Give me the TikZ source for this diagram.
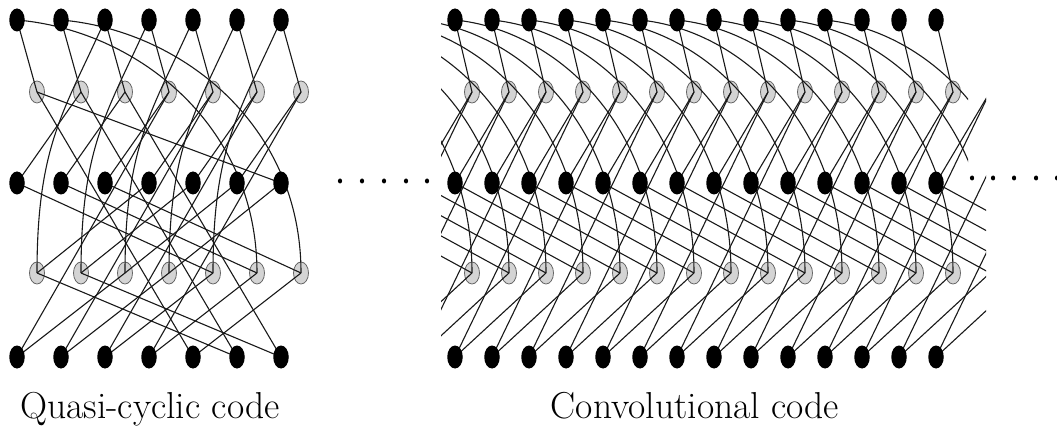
\documentclass[tikz,border=0pt]{standalone}
\usetikzlibrary{shapes.geometric}
\pgfdeclarelayer{bg}\pgfdeclarelayer{mid}
\pgfsetlayers{bg,mid,main}
\begin{document}
\begin{tikzpicture}[x=1pt,y=-1pt,
  vnode/.style={ellipse,fill=black,minimum width=15.5pt,minimum height=23pt,inner sep=0pt},
  cnode/.style={ellipse,fill=black!17,draw=black!60,line width=0.8pt,minimum width=15pt,minimum height=22pt,inner sep=0pt},
  edge/.style={line width=1.1pt,black!90},
  dotn/.style={ellipse,fill=black,minimum width=4.2pt,minimum height=5pt,inner sep=0pt},
  lab/.style={font=\fontsize{37.5}{44}\selectfont,inner sep=0pt,anchor=base}]
\useasboundingbox (0,0) rectangle (1057,430);
% ---------- quasi-cyclic code ----------
\foreach \i in {0,...,6}{
  \pgfmathsetmacro\xv{17+44*\i}
  \pgfmathsetmacro\xc{37+44*\i}
  \node[vnode] (qT\i) at (\xv,20) {};
  \node[vnode] (qM\i) at (\xv,183) {};
  \node[vnode] (qB\i) at (\xv,357) {};
  \begin{pgfonlayer}{bg}
    \node[cnode] (qU\i) at (\xc,92) {};
    \node[cnode] (qL\i) at (\xc,273) {};
  \end{pgfonlayer}
}
\begin{pgfonlayer}{mid}
\foreach \r in {0,...,6}{
  \pgfmathtruncatemacro\a{mod(\r+6,7)}
  \pgfmathtruncatemacro\b{mod(\r+4,7)}
  \pgfmathtruncatemacro\c{mod(\r+3,7)}
  \pgfmathtruncatemacro\d{mod(\r+5,7)}
  \draw[edge] (qU\r.center) -- (qT\r.center);
  \draw[edge] (qU\r.center) -- (qM\a.center);
  \draw[edge] (qU\r.center) -- (qB\b.center);
  \draw[edge] (qL\r.center) -- (qM\c.center);
  \draw[edge] (qL\r.center) -- (qB\d.center);
}
\foreach \r in {0,...,4}{
  \pgfmathtruncatemacro\e{\r+2}
  \draw[edge] (qT\e.center) .. controls +(-40,90) and +(0,-130) .. (qL\r.center);
}
\draw[edge] (qT0.center) .. controls +(118,10) and +(0,-150) .. (qL5.center);
\draw[edge] (qT1.center) .. controls +(118,10) and +(0,-150) .. (qL6.center);
\end{pgfonlayer}
% ---------- convolutional code ----------
\foreach \n in {0,...,25}{
  \pgfmathsetmacro\xv{455+37*(\n-6)}
  \pgfmathsetmacro\xc{472+37*(\n-6)}
  \ifnum\n<6 \def\vis{0}\else\ifnum\n>19 \def\vis{0}\else\def\vis{1}\fi\fi
  \ifnum\vis=1
    \node[vnode] (cT\n) at (\xv,20) {};
    \node[vnode] (cM\n) at (\xv,183) {};
    \node[vnode] (cB\n) at (\xv,357) {};
    \begin{pgfonlayer}{bg}
      \node[cnode] (cU\n) at (\xc,92) {};
      \node[cnode] (cL\n) at (\xc,273) {};
    \end{pgfonlayer}
  \else
    \coordinate (cT\n) at (\xv,20);
    \coordinate (cM\n) at (\xv,183);
    \coordinate (cB\n) at (\xv,357);
    \coordinate (cU\n) at (\xc,92);
    \coordinate (cL\n) at (\xc,273);
  \fi
}
\begin{pgfonlayer}{mid}
\begin{scope}
\clip (441,0) rectangle (986,430);
\foreach \n in {5,...,25}{
  \pgfmathtruncatemacro\a{\n-1}
  \pgfmathtruncatemacro\b{\n-3}
  \pgfmathtruncatemacro\c{\n-4}
  \pgfmathtruncatemacro\d{\n-2}
  \ifnum\n<20 \draw[edge] (cU\n.center) -- (cT\n.center); \fi
  \ifnum\a<20 \draw[edge] (cU\n.center) -- (cM\a.center); \fi
  \ifnum\b<20 \draw[edge] (cU\n.center) -- (cB\b.center); \fi
  \ifnum\c<20 \draw[edge] (cL\n.center) -- (cM\c.center); \fi
  \ifnum\d<20 \draw[edge] (cL\n.center) -- (cB\d.center); \fi
}
\end{scope}
\begin{scope}
\clip (441,0) rectangle (968,430);
\foreach \n in {5,...,21}{
  \pgfmathtruncatemacro\e{\n-5}
  \draw[edge] (cT\e.center) .. controls +(100,10) and +(0,-150) .. (cL\n.center);
}
\end{scope}
\end{pgfonlayer}
% ---------- dots ----------
\foreach \x [count=\k] in {340,362,384,406,427}{
  \node[dotn] (ld\k) at (\x,181) {};
}
\foreach \x [count=\k] in {972,993,1014,1036,1057}{
  \node[dotn] (rd\k) at (\x,178) {};
}
% ---------- labels ----------
\node[lab] (qlab) at (150,418) {Quasi-cyclic code};
\node[lab] (clab) at (695,418) {Convolutional code};
\end{tikzpicture}
\end{document}
